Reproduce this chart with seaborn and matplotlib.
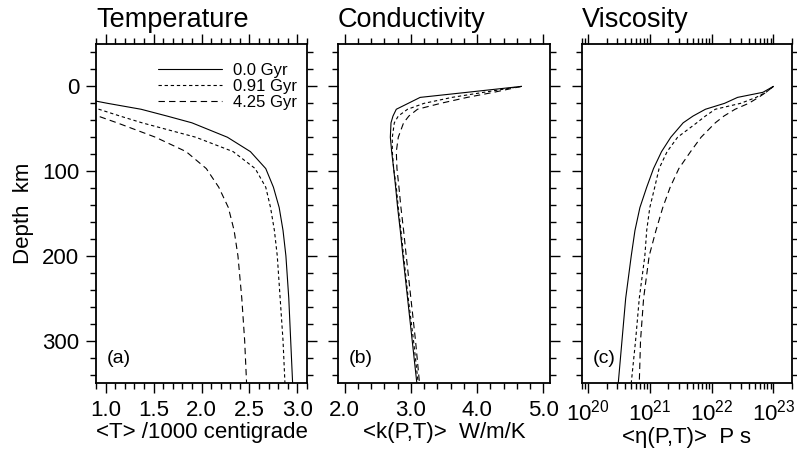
import numpy as np
import pandas as pd
import matplotlib
matplotlib.use("Agg")
import matplotlib.pyplot as plt
from matplotlib.ticker import MultipleLocator, LogLocator, FixedLocator, FormatStrFormatter
import seaborn as sns

# ---------------- data ----------------
series_names = ["0.0 Gyr", "0.91 Gyr", "4.25 Gyr"]
depth_km = [0, 7, 13, 20, 27, 35, 43, 60, 77, 97, 119, 143, 170, 200, 250, 300, 350]

# <T> / 1000 centigrade
temp_0p0 = [0.00, 0.45, 0.70, 1.02, 1.37, 1.64, 1.90, 2.27, 2.51, 2.67, 2.75, 2.81, 2.85, 2.88, 2.91, 2.93, 2.95]
temp_0p91 = [0.00, 0.25, 0.45, 0.70, 0.93, 1.15, 1.38, 1.94, 2.33, 2.56, 2.67, 2.72, 2.76, 2.79, 2.82, 2.85, 2.87]
temp_4p25 = [0.00, 0.19, 0.35, 0.53, 0.72, 0.92, 1.12, 1.52, 1.84, 2.05, 2.18, 2.28, 2.34, 2.38, 2.42, 2.45, 2.47]

# <k(P,T)> W/m/K
cond_0p0 = [4.67, 3.85, 3.14, 2.96, 2.78, 2.73, 2.70, 2.69, 2.71, 2.74, 2.77, 2.80, 2.84, 2.88, 2.95, 3.02, 3.09]
cond_0p91 = [4.67, 4.10, 3.62, 3.20, 2.95, 2.81, 2.75, 2.72, 2.72, 2.74, 2.78, 2.81, 2.85, 2.89, 2.96, 3.04, 3.11]
cond_4p25 = [4.67, 4.25, 3.85, 3.45, 3.10, 2.97, 2.89, 2.81, 2.78, 2.79, 2.82, 2.85, 2.89, 2.93, 3.00, 3.07, 3.13]

# log10 <eta(P,T)> (P s)
logvisc_0p0 = [23.00, 22.83, 22.42, 22.21, 21.90, 21.70, 21.54, 21.34, 21.19, 21.06, 20.95, 20.84, 20.76, 20.70, 20.61, 20.55, 20.49]
logvisc_0p91 = [23.00, 22.88, 22.72, 22.47, 22.06, 21.90, 21.76, 21.45, 21.28, 21.15, 21.08, 21.00, 20.95, 20.92, 20.83, 20.77, 20.70]
logvisc_4p25 = [23.00, 22.88, 22.76, 22.60, 22.38, 22.20, 22.06, 21.83, 21.66, 21.47, 21.33, 21.21, 21.10, 20.99, 20.90, 20.85, 20.83]

temp_ticks = [1.0, 1.5, 2.0, 2.5, 3.0]
cond_ticks = [2.0, 3.0, 4.0, 5.0]
depth_ticks = [0, 100, 200, 300]

panel_titles = ["Temperature", "Conductivity", "Viscosity"]
panel_xlabels = ["<T> /1000 centigrade", "<k(P,T)>  W/m/K", "<\u03b7(P,T)>  P s"]
panel_tags = ["(a)", "(b)", "(c)"]

# ---------------- style ----------------
sns.set_theme(style="ticks")
plt.rcParams["font.family"] = ["Liberation Sans", "DejaVu Sans"]
plt.rcParams["mathtext.fontset"] = "custom"
plt.rcParams["mathtext.rm"] = "Liberation Sans"
plt.rcParams["mathtext.it"] = "Liberation Sans:italic"
plt.rcParams["lines.scale_dashes"] = False
plt.rcParams["axes.linewidth"] = 1.3
for key in ["text.color", "axes.labelcolor", "xtick.color", "ytick.color",
            "axes.edgecolor", "xtick.labelcolor", "ytick.labelcolor"]:
    plt.rcParams[key] = "black"

dash_map = {"0.0 Gyr": "", "0.91 Gyr": (2.4, 2.0), "4.25 Gyr": (4.6, 3.0)}


def long_frame(vals_list, log=False):
    rows = []
    for name, vals in zip(series_names, vals_list):
        for d, v in zip(depth_km, vals):
            rows.append({"series": name, "depth": d, "value": (10.0 ** v) if log else v})
    return pd.DataFrame(rows)


frames = [
    long_frame([temp_0p0, temp_0p91, temp_4p25]),
    long_frame([cond_0p0, cond_0p91, cond_4p25]),
    long_frame([logvisc_0p0, logvisc_0p91, logvisc_4p25], log=True),
]

fig = plt.figure(figsize=(7.97, 4.5), dpi=100)
W, H = 797.0, 450.0
lefts = [96, 338, 582]
widths = [211, 212, 210]
top_px, bot_px = 44, 383
axes = []
for l, w in zip(lefts, widths):
    ax = fig.add_axes([l / W, (H - bot_px) / H, w / W, (bot_px - top_px) / H])
    axes.append(ax)

for i, (ax, df) in enumerate(zip(axes, frames)):
    if i == 2:
        ax.set_xscale("log")
    sns.lineplot(data=df, x="value", y="depth", style="series", style_order=series_names,
                 dashes=dash_map, color="black", linewidth=0.8, estimator=None,
                 sort=False, legend=False, ax=ax)
    ax.set_ylim(350, -50)
    ax.yaxis.set_major_locator(FixedLocator(depth_ticks))
    ax.yaxis.set_minor_locator(MultipleLocator(20))
    ax.tick_params(which="both", direction="out", top=True, right=True,
                   labeltop=False, labelright=False, colors="black", width=1.0,
                   labelsize=16)
    ax.tick_params(which="major", length=7, pad=5)
    ax.tick_params(which="minor", length=4)
    ax.set_title(panel_titles[i], loc="left", fontsize=19.5, pad=12)
    ax.set_xlabel(panel_xlabels[i], fontsize=16, labelpad=1)
    ax.text(0.05, 0.072, panel_tags[i], transform=ax.transAxes, fontsize=14,
            ha="left", va="center")
    for s in ax.spines.values():
        s.set_visible(True)
        s.set_color("black")
    ax.grid(False)

# panel a
axa = axes[0]
axa.set_xlim(0.9, 3.1)
axa.xaxis.set_major_locator(FixedLocator(temp_ticks))
axa.xaxis.set_major_formatter(FormatStrFormatter("%.1f"))
axa.xaxis.set_minor_locator(MultipleLocator(0.1))
axa.set_ylabel("Depth  km", fontsize=16, labelpad=6)
axa.legend(handles=axa.get_lines()[:3], labels=series_names, loc="upper right",
           bbox_to_anchor=(1.014, 0.983), frameon=False, fontsize=12,
           handlelength=3.83, handletextpad=0.62, labelspacing=0.05, borderpad=0.3)

# panel b
axb = axes[1]
axb.set_xlim(1.9, 5.1)
axb.xaxis.set_major_locator(FixedLocator(cond_ticks))
axb.xaxis.set_major_formatter(FormatStrFormatter("%.1f"))
axb.xaxis.set_minor_locator(MultipleLocator(0.2))
axb.set_ylabel("")
axb.tick_params(labelleft=False)

# panel c
axc = axes[2]
axc.set_xlim(8e19, 2e23)
axc.xaxis.set_major_locator(LogLocator(base=10, numticks=10))
axc.xaxis.set_minor_locator(LogLocator(base=10, subs=np.arange(2, 10), numticks=20))
axc.set_ylabel("")
axc.tick_params(labelleft=False)

fig.savefig("out.png", dpi=100)
